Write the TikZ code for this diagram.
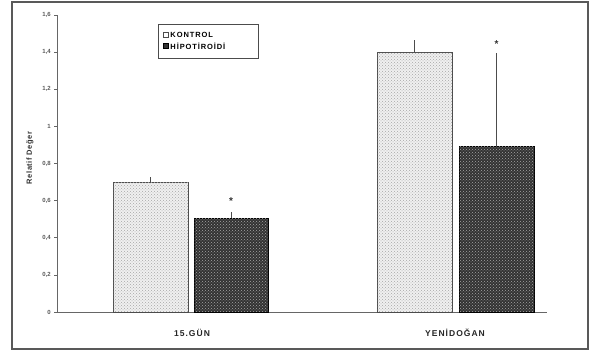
\documentclass[tikz,border=0pt]{standalone}
\usepackage{fontspec}
\setmainfont{Liberation Sans}
\usepackage{tikz}
\usetikzlibrary{patterns,positioning}
\tikzset{
    light-bar/.style = {draw=black!70, line width=0.8pt, fill=black!6, postaction={pattern=crosshatch dots, pattern color=black!35}},
    dark-bar/.style = {draw=black, line width=0.8pt, fill=black!80, postaction={pattern=crosshatch dots, pattern color=black!35}},
    err-bar/.style = {draw=black!70, line width=0.7pt},
    tick-label/.style = {font=\fontsize{6}{7}\selectfont\bfseries, text=black!65, anchor=east, inner sep=1pt},
    cat-label/.style = {font=\fontsize{8.5}{9}\selectfont\bfseries\addfontfeatures{LetterSpace=12}, text=black!85},
    legend-label/.style = {font=\fontsize{7.5}{8}\selectfont\bfseries\addfontfeatures{LetterSpace=12}, anchor=west, inner sep=1pt},
    star/.style = {font=\fontsize{10}{10}\selectfont\bfseries, text=black!80},
    key-box/.style = {rectangle, minimum size=5pt, inner sep=0pt, line width=0.5pt},
}

\begin{document}
\begin{tikzpicture}[x=1pt, y=1pt]
\useasboundingbox (0,0) rectangle (595,352);
\draw[black!65, line width=1.6pt] (12,3) rectangle (588,350);

\begin{scope}[shift={(57pt,40pt)}, y=185.6pt]
% axes
\draw[black!60, line width=0.8pt] (0,1.6) -- (0,0) -- (490,0);
\foreach \v/\t in {0/0, 0.2/{0,2}, 0.4/{0,4}, 0.6/{0,6}, 0.8/{0,8}, 1/1, 1.2/{1,2}, 1.4/{1,4}, 1.6/{1,6}}{
    \draw[black!60, line width=0.6pt] (-3,\v) -- (0,\v);
    \node[tick-label] at (-5,\v) {\t};
}
\node[font=\fontsize{7.5}{8}\selectfont\bfseries\addfontfeatures{LetterSpace=8}, text=black!80, rotate=90] (ylabel) at (-27,0.83) {Relatif Değer};

% bars, 15.GÜN
\draw[light-bar] (56,0) rectangle (131,0.7);
\draw[err-bar] (93.5,0.7) -- (93.5,0.73);
\draw[dark-bar] (137,0) rectangle (211,0.505);
\draw[err-bar] (174,0.505) -- (174,0.54);
\node[star] (star-a) at (174,0.595) {*};

% bars, YENİDOĞAN
\draw[light-bar] (320,0) rectangle (395,1.4);
\draw[err-bar] (357.5,1.4) -- (357.5,1.465);
\draw[dark-bar] (402,0) rectangle (477,0.89);
\draw[err-bar] (439.5,0.89) -- (439.5,1.395);
\node[star] (star-b) at (439.5,1.445) {*};

\node[cat-label] (gun) at (135,-0.113) {15.GÜN};
\node[cat-label] (yeni) at (398,-0.113) {YENİDOĞAN};
\end{scope}

% legend
\node[draw=black!70, line width=0.8pt, minimum width=100pt, minimum height=34pt, inner sep=0pt] (legend) at (208,311) {};
\node[key-box, draw=black!70, fill=white] (key-k) at (166,317) {};
\node[key-box, draw=black, fill=black!80] (key-h) at (166,306) {};
\node[legend-label, right=0.5pt of key-k] (lab-k) {KONTROL};
\node[legend-label, right=0.5pt of key-h] (lab-h) {HİPOTİROİDİ};
\end{tikzpicture}
\end{document}
